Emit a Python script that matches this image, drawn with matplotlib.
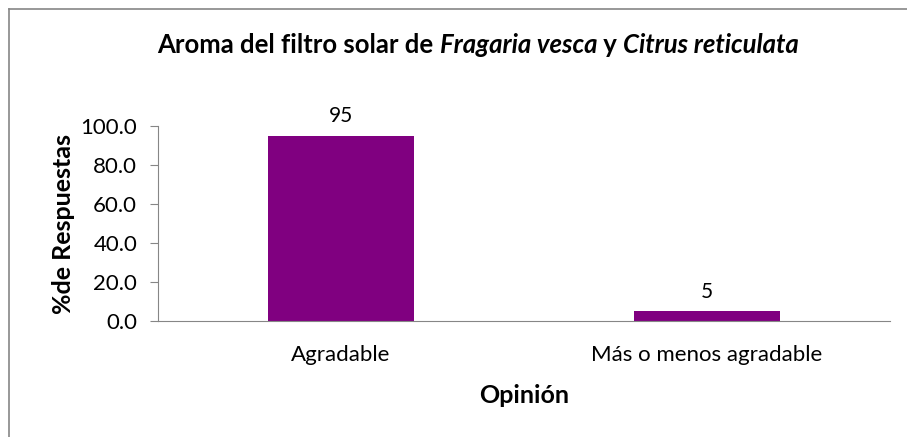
import matplotlib.pyplot as plt
from matplotlib.lines import Line2D

categories = ["Agradable", "Más o menos agradable"]
values = [95, 5]
y_ticks = [0, 20, 40, 60, 80, 100]

plt.rcParams['font.family'] = ['Lato', 'DejaVu Sans']

fig = plt.figure(figsize=(9.07, 4.37), dpi=100)
ax = fig.add_axes([158 / 907, 1 - 321 / 437, 732 / 907, (321 - 126) / 437])

# chart border (only top and left edges show in the reference)
bx, by = 8.5 / 907, 1 - 8.5 / 437
fig.lines.append(Line2D([bx, bx], [0, by], transform=fig.transFigure, color="#868686", lw=1.2))
fig.lines.append(Line2D([bx, 1], [by, by], transform=fig.transFigure, color="#868686", lw=1.2))

x = range(len(categories))
ax.bar(x, values, width=0.4, color="#800080")
for i, v in zip(x, values):
    ax.text(i, v + 5, str(v), ha="center", va="bottom", fontsize=15)

ax.set_xlim(-0.5, 1.5)
ax.set_ylim(0, 100)
ax.set_yticks(y_ticks)
ax.set_yticklabels([f"{t:.1f}" for t in y_ticks], fontsize=16)
ax.set_xticks(list(x))
ax.set_xticklabels(categories, fontsize=16)
ax.tick_params(axis="x", length=0, pad=17)
ax.tick_params(axis="y", length=6, color="#868686", pad=9)

for s in ["top", "right"]:
    ax.spines[s].set_visible(False)
ax.spines["left"].set_color("#868686")
ax.spines["bottom"].set_color("#868686")

ax.set_ylabel("%de Respuestas", fontsize=18, fontweight="bold", labelpad=4)
ax.set_xlabel("Opinión", fontsize=18, fontweight="bold", labelpad=14)

# title with italic species names
title_parts = [("Aroma del filtro solar de ", "normal"), ("Fragaria vesca", "italic"),
               (" y ", "normal"), ("Citrus reticulata", "italic")]
fig.canvas.draw()
renderer = fig.canvas.get_renderer()
texts = []
total = 0
for part, style in title_parts:
    t = fig.text(0, 1 - 45 / 437, part, fontsize=18.5, fontweight="bold", style=style,
                 va="center", ha="left")
    w = t.get_window_extent(renderer).width
    texts.append((t, w))
    total += w
xpos = 478 - total / 2
for t, w in texts:
    t.set_x(xpos / 907)
    xpos += w

fig.savefig("out.png", dpi=100)
